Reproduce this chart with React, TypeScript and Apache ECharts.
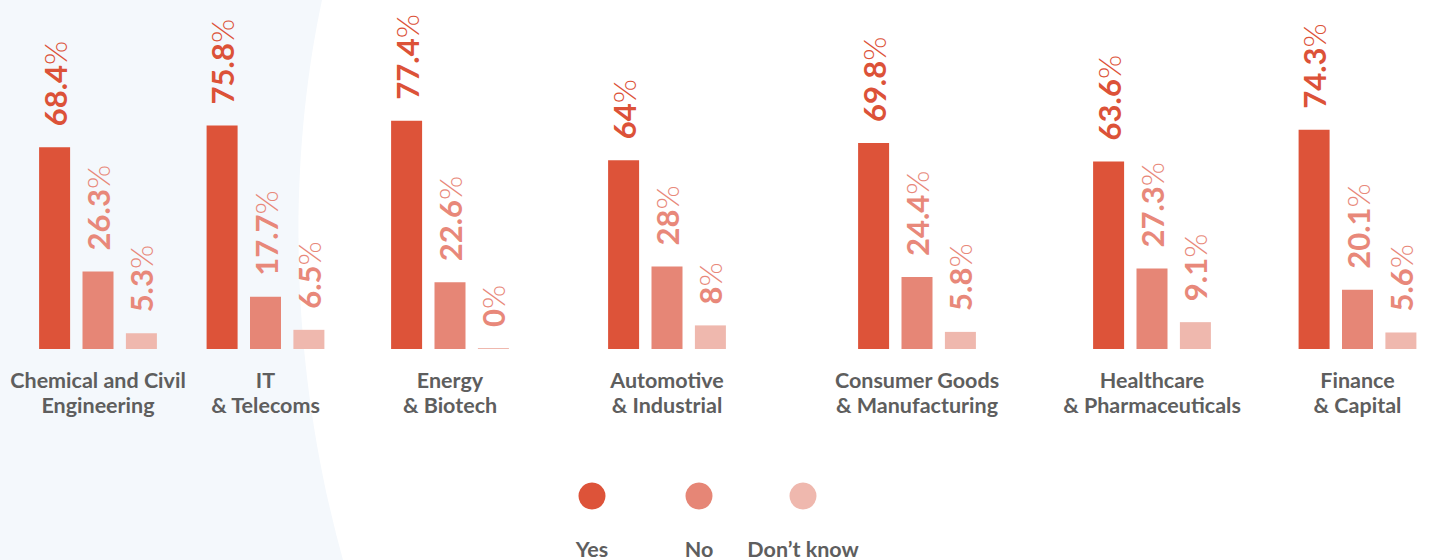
import React, { useEffect, useRef } from "react";
import * as echarts from "echarts";

const categories = [
  "Chemical and Civil\nEngineering",
  "IT\n& Telecoms",
  "Energy\n& Biotech",
  "Automotive\n& Industrial",
  "Consumer Goods\n& Manufacturing",
  "Healthcare\n& Pharmaceuticals",
  "Finance\n& Capital",
];
const yesValues = [68.4, 75.8, 77.4, 64, 69.8, 63.6, 74.3];
const noValues = [26.3, 17.7, 22.6, 28, 24.4, 27.3, 20.1];
const dontKnowValues = [5.3, 6.5, 0, 8, 5.8, 9.1, 5.6];
const seriesNames = ["Yes", "No", "Don\u2019t know"];

// layout / style
const groupCenters = [98, 265.5, 450, 667, 917, 1152, 1363];
const legendCenters = [592, 699, 803];
const barColors = ["#dd5339", "#e68676", "#efb8ae"];
const labelColors = ["#dc5238", "#e8887a", "#e8887a"];
const textGray = "#5e5e5e";
const FONT = "Lato";

const bgPath = "M0 0 L322 0 C290 150 285 350 343 560 L0 560 Z";
echarts.graphic.registerShape(
  "bgCurve",
  (echarts.graphic as any).extendPath(bgPath, {})
);

export default function App() {
  const ref = useRef<HTMLDivElement>(null);
  useEffect(() => {
    if (!ref.current) return;
    const chart = echarts.init(ref.current, undefined, { renderer: "svg" });
    const valueSets = [yesValues, noValues, dontKnowValues];
    const gridW = 160;
    const grids = categories.map((_, i) => ({
      left: groupCenters[i] - gridW / 2,
      width: gridW,
      top: 54,
      bottom: 211,
      containLabel: false,
    }));
    const xAxes = categories.map((c, i) => ({
      type: "category",
      gridIndex: i,
      data: [c],
      axisLine: { show: false },
      axisTick: { show: false },
      axisLabel: {
        interval: 0,
        margin: 18,
        color: textGray,
        fontFamily: FONT,
        fontWeight: "bold",
        fontSize: 21.5,
        lineHeight: 25,
        align: "center",
      },
    }));
    const yAxes = categories.map((_, i) => ({
      type: "value",
      gridIndex: i,
      min: 0,
      max: 100,
      show: false,
      splitLine: { show: false },
    }));
    const series: any[] = [];
    categories.forEach((_, i) => {
      valueSets.forEach((vals, s) => {
        series.push({
          type: "bar",
          name: seriesNames[s],
          xAxisIndex: i,
          yAxisIndex: i,
          data: [vals[i]],
          barWidth: 31,
          barGap: "40%",
          barMinHeight: 1,
          itemStyle: { color: barColors[s] },
          label: {
            show: true,
            position: "top",
            rotate: 90,
            align: "left",
            verticalAlign: "middle",
            distance: 21,
            formatter: (p: any) => `{v|${p.value}}{p|%}`,
            rich: {
              v: {
                fontFamily: FONT,
                fontWeight: "bold",
                fontSize: 31,
                color: labelColors[s],
              },
              p: {
                fontFamily: FONT,
                fontWeight: 300,
                fontSize: 31,
                color: labelColors[s],
              },
            },
          },
        });
      });
    });
    const graphic: any[] = [
      {
        type: "bgCurve",
        x: 0,
        y: 0,
        z: -10,
        silent: true,
        style: { fill: "#f4f8fc" },
      },
    ];
    seriesNames.forEach((n, s) => {
      graphic.push({
        type: "circle",
        shape: { cx: legendCenters[s], cy: 496, r: 13.5 },
        style: { fill: barColors[s] },
        silent: true,
      });
      graphic.push({
        type: "text",
        x: legendCenters[s],
        y: 549,
        style: {
          text: n,
          fill: textGray,
          font: `bold 21.5px ${FONT}`,
          textAlign: "center",
          textVerticalAlign: "middle",
        },
        silent: true,
      });
    });
    chart.setOption({
      animation: false,
      backgroundColor: "#ffffff",
      grid: grids,
      xAxis: xAxes,
      yAxis: yAxes,
      series,
      graphic,
    });
    return () => chart.dispose();
  }, []);
  return (
    <div
      ref={ref}
      style={{ position: "absolute", left: 0, top: 0, width: 1432, height: 560 }}
    />
  );
}
